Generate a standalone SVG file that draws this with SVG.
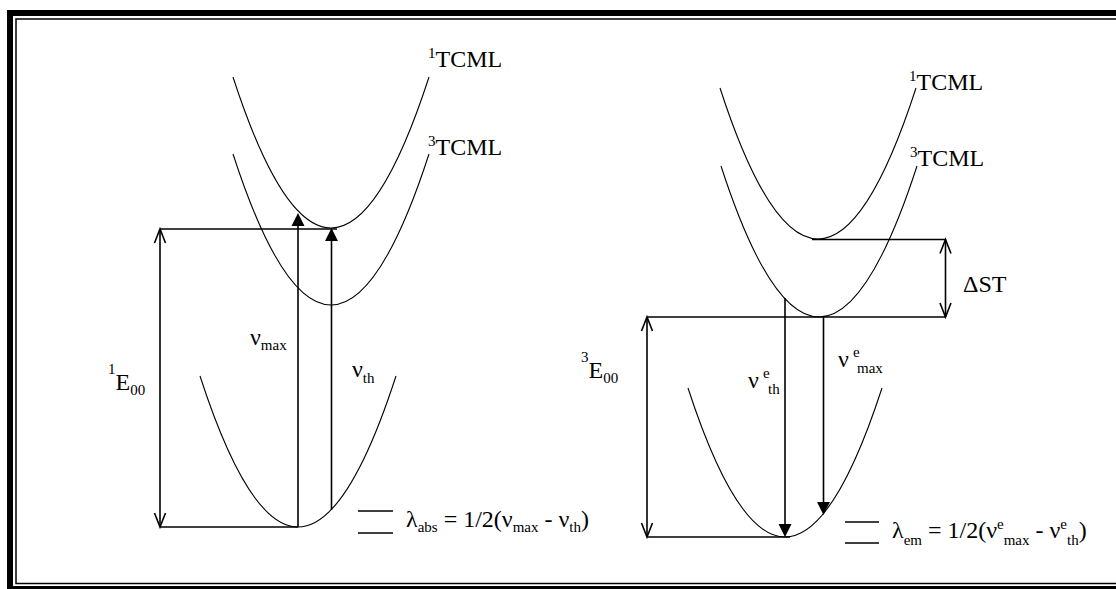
<svg xmlns="http://www.w3.org/2000/svg" width="1116" height="589" viewBox="0 0 1116 589">
<rect width="1116" height="589" fill="#fff"/>
<g id="frame" fill="none" stroke="#000">
<rect x="10" y="13" width="1120" height="576" stroke-width="6"/>
<rect x="16" y="19" width="1112" height="564.5" stroke-width="1.5"/>
</g>
<g id="left-1TCML">
<path fill="none" stroke="#000" stroke-width="1.1" d="M233,77 Q331,379 429,77"/>
<text font-family="Liberation Serif" font-size="24" x="428" y="67"><tspan font-size="15" dy="-9">1</tspan><tspan dy="9">TCML</tspan></text>
</g>
<g id="left-3TCML">
<path fill="none" stroke="#000" stroke-width="1.1" d="M233,154 Q331,456 429,154"/>
<text font-family="Liberation Serif" font-size="24" x="428" y="155"><tspan font-size="15" dy="-9">3</tspan><tspan dy="9">TCML</tspan></text>
</g>
<g id="left-ground">
<path fill="none" stroke="#000" stroke-width="1.1" d="M200,376 Q298,678 396,376"/>
</g>
<g id="right-1TCML">
<path fill="none" stroke="#000" stroke-width="1.1" d="M720,88 Q818,390 916,88"/>
<text font-family="Liberation Serif" font-size="24" x="909" y="90"><tspan font-size="15" dy="-9">1</tspan><tspan dy="9">TCML</tspan></text>
</g>
<g id="right-3TCML">
<path fill="none" stroke="#000" stroke-width="1.1" d="M721,166 Q819,468 917,166"/>
<text font-family="Liberation Serif" font-size="24" x="910" y="166"><tspan font-size="15" dy="-9">3</tspan><tspan dy="9">TCML</tspan></text>
</g>
<g id="right-ground">
<path fill="none" stroke="#000" stroke-width="1.1" d="M688,388 Q785,686 882,388"/>
</g>
<g id="connectors" fill="none" stroke="#000" stroke-width="1.6">
<path d="M160,229 H337"/>
<path d="M160,527 H298"/>
<path d="M160,229 V527"/>
<path d="M154.5,243 L160,229 L165.5,243 M154.5,513 L160,527 L165.5,513"/>
<path d="M298,527 V220"/>
<path d="M331.5,510 V235"/>
<path d="M358,511 H393 M358,533 H393"/>
<path d="M812,239.5 H945.5"/>
<path d="M647,317 H945.5"/>
<path d="M945.5,239.5 V317"/>
<path d="M940,253.5 L945.5,239.5 L951,253.5 M940,303 L945.5,317 L951,303"/>
<path d="M647,317 V537"/>
<path d="M641.5,331 L647,317 L652.5,331 M641.5,523 L647,537 L652.5,523"/>
<path d="M647,537 H790"/>
<path d="M785,298 V530"/>
<path d="M823.5,317 V508"/>
<path d="M845,522 H879 M845,543 H879"/>
<path fill="#000" stroke="none" d="M291.5,226 L298,213 L304.5,226 Z M325,241 L331.5,228 L338,241 Z M778.5,524 L785,537 L791.5,524 Z M817,502 L823.5,515 L830,502 Z"/>
</g>
<g id="labels">
<text font-family="Liberation Serif" font-size="24" x="108" y="390"><tspan font-size="15" dy="-16">1</tspan><tspan dy="16">E</tspan><tspan font-size="15" dy="5">00</tspan></text>
<text font-family="Liberation Serif" font-size="24" x="581" y="378"><tspan font-size="15" dy="-16">3</tspan><tspan dy="16">E</tspan><tspan font-size="15" dy="5">00</tspan></text>
<text font-family="Liberation Serif" font-size="24" x="250" y="345">&#957;<tspan font-size="15" dy="5">max</tspan></text>
<text font-family="Liberation Serif" font-size="24" x="352" y="377">&#957;<tspan font-size="15" dy="6">th</tspan></text>
<text font-family="Liberation Serif" font-size="24" x="748" y="388">&#957;</text>
<text font-family="Liberation Serif" font-size="15" x="763" y="378">e</text>
<text font-family="Liberation Serif" font-size="15" x="768" y="394">th</text>
<text font-family="Liberation Serif" font-size="24" x="838" y="367">&#957;</text>
<text font-family="Liberation Serif" font-size="15" x="853" y="357">e</text>
<text font-family="Liberation Serif" font-size="15" x="857" y="373">max</text>
<text font-family="Liberation Serif" font-size="24" x="963" y="292">&#916;ST</text>
<text font-family="Liberation Serif" font-size="24" x="406" y="527">&#955;<tspan font-size="15" dy="5">abs</tspan><tspan dy="-5"> = 1/2(&#957;</tspan><tspan font-size="15" dy="5">max</tspan><tspan dy="-5"> - &#957;</tspan><tspan font-size="15" dy="5">th</tspan><tspan dy="-5">)</tspan></text>
<text font-family="Liberation Serif" font-size="24" x="892" y="538">&#955;<tspan font-size="15" dy="7">em</tspan><tspan dy="-7"> = 1/2(&#957;</tspan><tspan font-size="15" dy="-9">e</tspan><tspan font-size="15" dy="16">max</tspan><tspan dy="-7"> - &#957;</tspan><tspan font-size="15" dy="-9">e</tspan><tspan font-size="15" dy="16">th</tspan><tspan dy="-7">)</tspan></text>
</g>
</svg>
